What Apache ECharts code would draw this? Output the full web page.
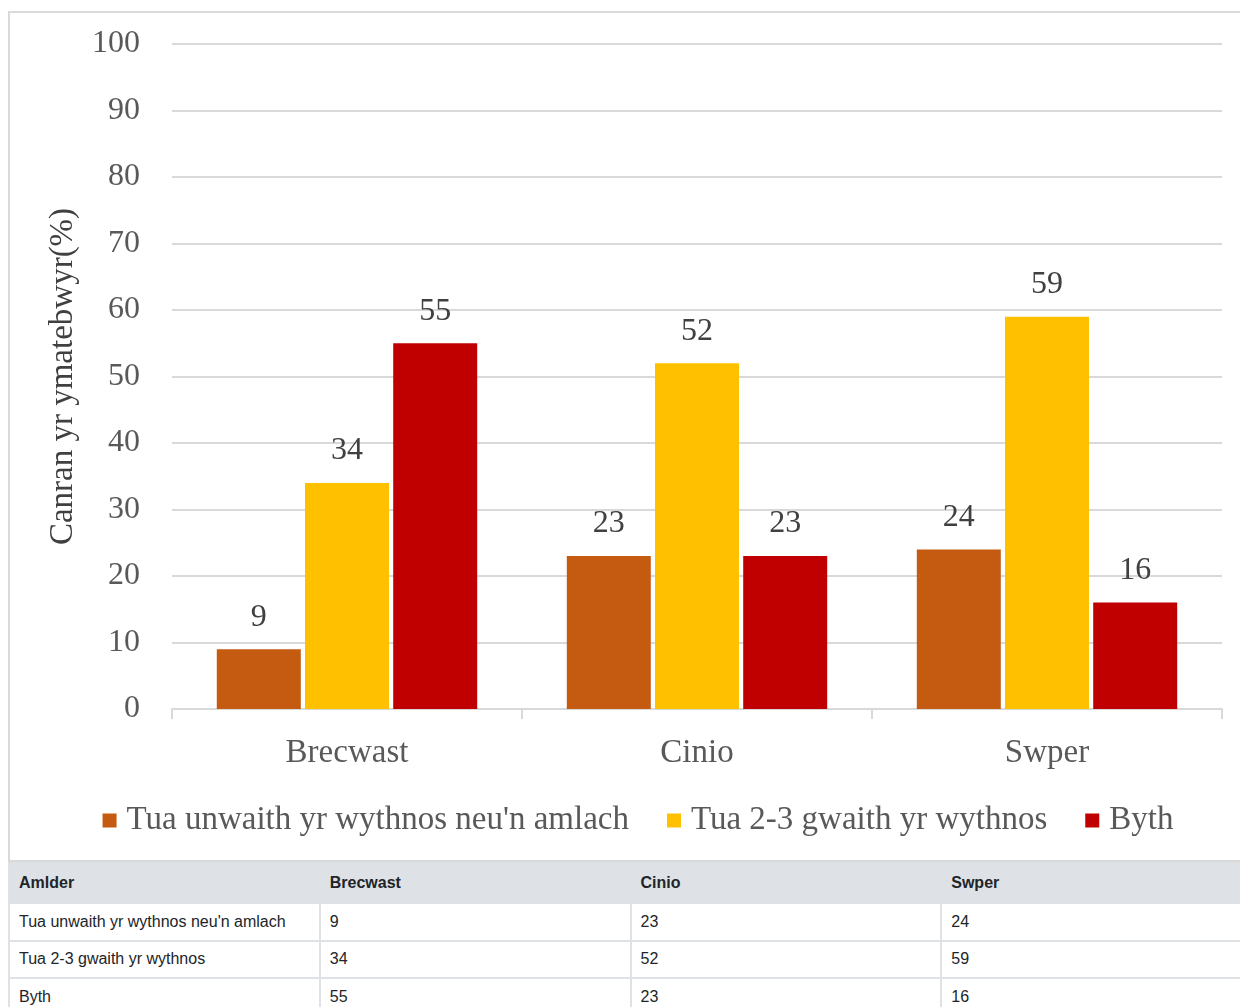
<!DOCTYPE html>
<html>
<head>
<meta charset="utf-8">
<script src="https://cdn.jsdelivr.net/npm/echarts@6/dist/echarts.min.js"></script>
<style>
  html, body { margin: 0; padding: 0; background: #fff; overflow: hidden; }
  #chart {
    position: absolute; left: 8px; top: 11px;
    width: 1260px; height: 851px;
    border: 2px solid #d9d9d9; box-sizing: border-box;
  }
  #table {
    position: absolute; left: 8px; top: 862px;
    border-collapse: collapse; table-layout: fixed; width: 1245px;
    font-family: "Liberation Sans", Arial, sans-serif; font-size: 16px; color: #212529;
  }
  #table th, #table td {
    border: 2px solid #dee2e6; text-align: left; padding: 0 9px;
  }
  #table th { background: #dee2e6; height: 38px; font-weight: bold; }
  #table td { height: 35.5px; }
</style>
</head>
<body>
<div id="chart"></div>
<table id="table"></table>
<script>
const categories = ['Brecwast', 'Cinio', 'Swper']
const seriesNames = ["Tua unwaith yr wythnos neu'n amlach", 'Tua 2-3 gwaith yr wythnos', 'Byth']
const onceOrMore = [9, 23, 24]
const twoThree = [34, 52, 59]
const never = [55, 23, 16]
const colors = ['#C55A11', '#FFC000', '#C00000']
const yAxisName = 'Canran yr ymatebwyr(%)'
const tableHead = 'Amlder'

const font = '"Liberation Serif", "Times New Roman", serif'
const allData = [onceOrMore, twoThree, never]

let myChart = echarts.init(document.getElementById('chart'))
myChart.setOption({
  animation: false,
  textStyle: { fontFamily: font },
  legend: {
    left: 'center',
    top: 786,
    itemWidth: 14,
    itemHeight: 14,
    itemGap: 38,
    icon: 'rect',
    textStyle: { fontFamily: font, fontSize: 33, color: '#595959', padding: [0, 0, 0, 5] },
    data: seriesNames
  },
  grid: { left: 162, top: 31, width: 1050, height: 665 },
  xAxis: {
    type: 'category',
    data: categories,
    axisLine: { lineStyle: { color: '#d9d9d9', width: 2 } },
    axisTick: { show: true, length: 10, lineStyle: { color: '#d9d9d9', width: 2 } },
    axisLabel: { fontFamily: font, fontSize: 33, color: '#595959', margin: 28 }
  },
  yAxis: {
    type: 'value',
    min: 0,
    max: 100,
    interval: 10,
    name: yAxisName,
    nameLocation: 'middle',
    nameGap: 92,
    nameTextStyle: { fontFamily: font, fontSize: 33, color: '#404040' },
    axisLine: { show: false },
    axisTick: { show: false },
    splitLine: { lineStyle: { color: '#d9d9d9', width: 2 } },
    axisLabel: { fontFamily: font, fontSize: 32, color: '#595959', margin: 32 }
  },
  series: allData.map((d, i) => ({
    name: seriesNames[i],
    type: 'bar',
    data: d,
    color: colors[i],
    barWidth: 84,
    barGap: '5%',
    label: {
      show: true,
      position: 'top',
      distance: 16,
      fontFamily: font,
      fontSize: 32,
      color: '#404040'
    }
  }))
})

// table built from the same arrays
let html = '<tr><th>' + tableHead + '</th>' + categories.map(c => '<th>' + c + '</th>').join('') + '</tr>'
for (let i = 0; i < seriesNames.length; i++) {
  html += '<tr><td>' + seriesNames[i] + '</td>' + allData[i].map(v => '<td>' + v + '</td>').join('') + '</tr>'
}
document.getElementById('table').innerHTML = html
</script>
</body>
</html>
